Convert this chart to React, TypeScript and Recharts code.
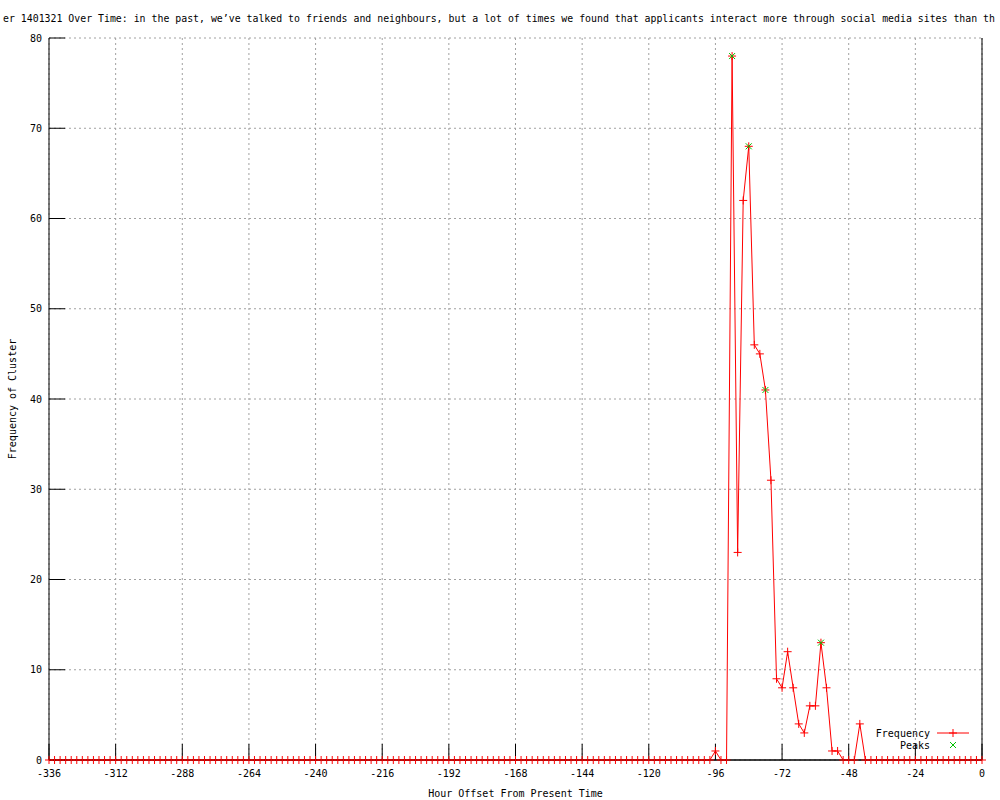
import React from 'react';
import { ComposedChart, Line, XAxis, YAxis, CartesianGrid, ReferenceLine } from 'recharts';

// Cluster frequency per 2-hour bucket, offset from present time

const hours = [
  -336, -334, -332, -330, -328, -326, -324, -322, -320, -318, -316, -314,
  -312, -310, -308, -306, -304, -302, -300, -298, -296, -294, -292, -290,
  -288, -286, -284, -282, -280, -278, -276, -274, -272, -270, -268, -266,
  -264, -262, -260, -258, -256, -254, -252, -250, -248, -246, -244, -242,
  -240, -238, -236, -234, -232, -230, -228, -226, -224, -222, -220, -218,
  -216, -214, -212, -210, -208, -206, -204, -202, -200, -198, -196, -194,
  -192, -190, -188, -186, -184, -182, -180, -178, -176, -174, -172, -170,
  -168, -166, -164, -162, -160, -158, -156, -154, -152, -150, -148, -146,
  -144, -142, -140, -138, -136, -134, -132, -130, -128, -126, -124, -122,
  -120, -118, -116, -114, -112, -110, -108, -106, -104, -102, -100, -98,
  -96, -94, -92, -90, -88, -86, -84, -82, -80, -78, -76, -74,
  -72, -70, -68, -66, -64, -62, -60, -58, -56, -54, -52, -50,
  -48, -46, -44, -42, -40, -38, -36, -34, -32, -30, -28, -26,
  -24, -22, -20, -18, -16, -14, -12, -10, -8, -6, -4, -2,
  0,
];

const frequency = [
  0, 0, 0, 0, 0, 0, 0, 0, 0, 0, 0, 0,
  0, 0, 0, 0, 0, 0, 0, 0, 0, 0, 0, 0,
  0, 0, 0, 0, 0, 0, 0, 0, 0, 0, 0, 0,
  0, 0, 0, 0, 0, 0, 0, 0, 0, 0, 0, 0,
  0, 0, 0, 0, 0, 0, 0, 0, 0, 0, 0, 0,
  0, 0, 0, 0, 0, 0, 0, 0, 0, 0, 0, 0,
  0, 0, 0, 0, 0, 0, 0, 0, 0, 0, 0, 0,
  0, 0, 0, 0, 0, 0, 0, 0, 0, 0, 0, 0,
  0, 0, 0, 0, 0, 0, 0, 0, 0, 0, 0, 0,
  0, 0, 0, 0, 0, 0, 0, 0, 0, 0, 0, 0,
  1, 0, 0, 78, 23, 62, 68, 46, 45, 41, 31, 9,
  8, 12, 8, 4, 3, 6, 6, 13, 8, 1, 1, 0,
  0, 0, 4, 0, 0, 0, 0, 0, 0, 0, 0, 0,
  0, 0, 0, 0, 0, 0, 0, 0, 0, 0, 0, 0,
  0,
];

const peakHours = [-90, -84, -78, -58];
const peakValues = [78, 68, 41, 13];

const xTicks = [-336, -312, -288, -264, -240, -216, -192, -168, -144, -120, -96, -72, -48, -24, 0];
const yTicks = [0, 10, 20, 30, 40, 50, 60, 70, 80];

const title =
  'er 1401321 Over Time: in the past, we\u2019ve talked to friends and neighbours, but a lot of times we found that applicants interact more through social media sites than th';

const FONT = "'DejaVu Sans Mono', monospace";
const RED = '#ff0000';
const GREEN = '#00c000';

const rows = hours.map((hour, i) => {
  const p = peakHours.indexOf(hour);
  return { hour, freq: frequency[i], peak: p >= 0 ? peakValues[p] : null };
});

const PlusDot = (props: any) => {
  const { cx, cy, index } = props;
  if (cx == null || cy == null) return <g key={`f${index}`} />;
  return (
    <g key={`f${index}`}>
      <line x1={cx - 4} x2={cx + 4} y1={cy} y2={cy} stroke={RED} />
      <line x1={cx} x2={cx} y1={cy - 4} y2={cy + 4} stroke={RED} />
    </g>
  );
};

const CrossDot = (props: any) => {
  const { cx, cy, index, payload } = props;
  if (cx == null || cy == null || payload?.peak == null) return <g key={`p${index}`} />;
  return (
    <g key={`p${index}`}>
      <line x1={cx - 3} x2={cx + 3} y1={cy - 3} y2={cy + 3} stroke={GREEN} />
      <line x1={cx - 3} x2={cx + 3} y1={cy + 3} y2={cy - 3} stroke={GREEN} />
    </g>
  );
};

const tickStyle = { fontSize: 10, fontFamily: FONT, fill: '#000' };

export default function App() {
  return (
    <div style={{ position: 'absolute', left: 0, top: 0, width: 1000, height: 800, background: '#fff', overflow: 'hidden' }}>
      <ComposedChart width={1000} height={800} data={rows} margin={{ top: 38, right: 0, bottom: 0, left: 0 }}>
        <CartesianGrid stroke="#a0a0a0" strokeDasharray="2 3" />
        <XAxis
          dataKey="hour"
          type="number"
          domain={[-336, 0]}
          ticks={xTicks}
          interval={0}
          height={40}
          tickSize={-16}
          tickMargin={26}
          tick={tickStyle}
          stroke="#000"
          label={{ value: 'Hour Offset From Present Time', position: 'insideBottom', offset: 3, style: tickStyle }}
        />
        <XAxis
          xAxisId="top"
          orientation="top"
          dataKey="hour"
          type="number"
          domain={[-336, 0]}
          ticks={xTicks}
          interval={0}
          height={0}
          tickSize={-16}
          tick={false}
          stroke="#000"
        />
        <YAxis
          type="number"
          domain={[0, 80]}
          ticks={yTicks}
          interval={0}
          width={49}
          tickSize={-16}
          tickMargin={23}
          tick={tickStyle}
          stroke="#000"
        />
        <YAxis
          yAxisId="right"
          orientation="right"
          type="number"
          domain={[0, 80]}
          ticks={yTicks}
          interval={0}
          width={18}
          tickSize={-16}
          tick={false}
          stroke="#000"
        />
        <Line
          type="linear"
          dataKey="freq"
          stroke={RED}
          strokeWidth={1}
          dot={PlusDot}
          activeDot={false}
          isAnimationActive={false}
        />
        <ReferenceLine y={0} stroke="#000" />
        <Line
          type="linear"
          dataKey="peak"
          stroke="none"
          dot={CrossDot}
          activeDot={false}
          connectNulls={false}
          isAnimationActive={false}
        />
      </ComposedChart>
      <svg width={1000} height={800} style={{ position: 'absolute', left: 0, top: 0, pointerEvents: 'none' }}>
        <text
          x={3}
          y={22}
          textLength={992}
          lengthAdjust="spacingAndGlyphs"
          fontFamily={FONT}
          fontSize={10}
          fill="#000"
        >
          {title}
        </text>
        <text
          x={16}
          y={399}
          transform="rotate(-90 16 399)"
          textAnchor="middle"
          fontFamily={FONT}
          fontSize={10}
          fill="#000"
        >
          Frequency of Cluster
        </text>
        <text x={930} y={737} textAnchor="end" fontFamily={FONT} fontSize={10} fill="#000">
          Frequency
        </text>
        <line x1={937} x2={969} y1={733} y2={733} stroke={RED} />
        <line x1={949} x2={957} y1={733} y2={733} stroke={RED} />
        <line x1={953} x2={953} y1={729} y2={737} stroke={RED} />
        <text x={930} y={749} textAnchor="end" fontFamily={FONT} fontSize={10} fill="#000">
          Peaks
        </text>
        <line x1={950} x2={956} y1={742} y2={748} stroke={GREEN} />
        <line x1={950} x2={956} y1={748} y2={742} stroke={GREEN} />
      </svg>
    </div>
  );
}
